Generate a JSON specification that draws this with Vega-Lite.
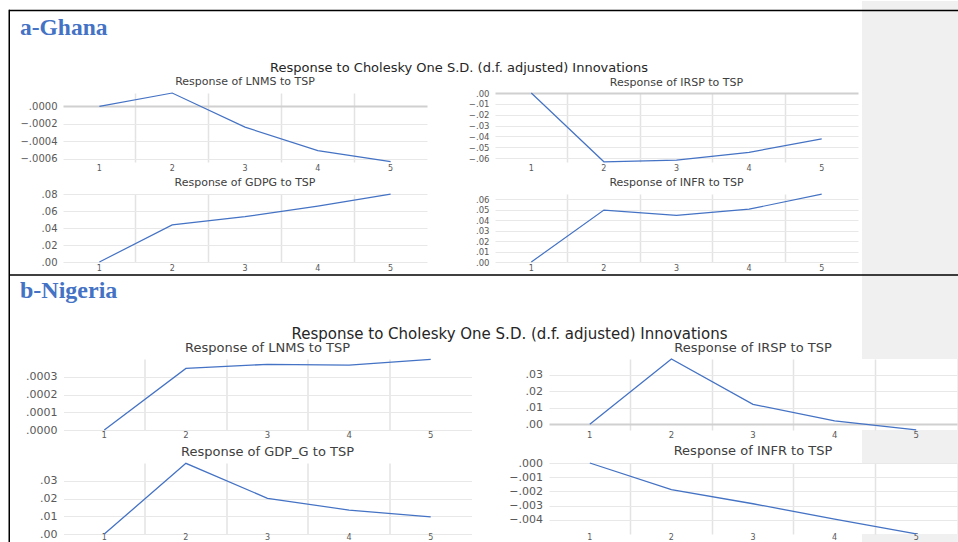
{
 "$schema": "https://vega.github.io/schema/vega-lite/v6.json",
 "padding": 0,
 "background": "white",
 "autosize": {"type": "pad"},
 "config": {
  "font": "DejaVu Sans",
  "view": {"stroke": null},
  "axis": {"domain": false, "ticks": false, "labelColor": "#595959", "labelFont": "DejaVu Sans"},
  "title": {"font": "DejaVu Sans", "fontWeight": "normal", "color": "#404040"}
 },
 "datasets": {
  "gh_lnms": [{"h":1,"r":0},{"h":2,"r":0.000155},{"h":3,"r":-0.000238},{"h":4,"r":-0.000509},{"h":5,"r":-0.000636}],
  "gh_irsp": [{"h":1,"r":0},{"h":2,"r":-0.0633},{"h":3,"r":-0.0618},{"h":4,"r":-0.0546},{"h":5,"r":-0.0423}],
  "gh_gdpg": [{"h":1,"r":0},{"h":2,"r":0.0436},{"h":3,"r":0.0533},{"h":4,"r":0.0658},{"h":5,"r":0.0799}],
  "gh_infr": [{"h":1,"r":0},{"h":2,"r":0.0496},{"h":3,"r":0.0446},{"h":4,"r":0.0505},{"h":5,"r":0.0648}],
  "ng_lnms": [{"h":1,"r":0},{"h":2,"r":0.000347},{"h":3,"r":0.00037},{"h":4,"r":0.000366},{"h":5,"r":0.000398}],
  "ng_irsp": [{"h":1,"r":0},{"h":2,"r":0.0396},{"h":3,"r":0.0121},{"h":4,"r":0.002},{"h":5,"r":-0.0034}],
  "ng_gdpg": [{"h":1,"r":0},{"h":2,"r":0.0398},{"h":3,"r":0.0201},{"h":4,"r":0.0135},{"h":5,"r":0.0097}],
  "ng_infr": [{"h":1,"r":0},{"h":2,"r":-0.00188},{"h":3,"r":-0.00287},{"h":4,"r":-0.00395},{"h":5,"r":-0.00499}]
 },
 "bounds": "flush",
 "spacing": 0,
 "vconcat": [
  {"bounds":"flush","spacing":861,"hconcat":[{"width":1,"height":1,"data":{"values":[]},"mark":{"type":"point","opacity":0}},{"bounds":"flush","spacing":-1,"vconcat":[{"width":1,"height":1,"data":{"values":[]},"mark":{"type":"point","opacity":0}},
    {"width":96,"height":542,"data":{"values":[]},"mark":{"type":"point","opacity":0},"view":{"fill":"#f0f0f0","stroke":null}}]}]},
  {"bounds":"flush","spacing":8,"hconcat":[{"width":1,"height":1,"data":{"values":[]},"mark":{"type":"point","opacity":0}},{"bounds":"flush","spacing":8.7,"vconcat":[{"width":1,"height":1,"data":{"values":[]},"mark":{"type":"point","opacity":0}},
    {"width":949,"height":1.5,"data":{"values":[]},"mark":{"type":"point","opacity":0},"view":{"fill":"#000000","stroke":null}}]}]},
  {"bounds":"flush","spacing":7.5,"hconcat":[{"width":1,"height":1,"data":{"values":[]},"mark":{"type":"point","opacity":0}},{"bounds":"flush","spacing":8.7,"vconcat":[{"width":1,"height":1,"data":{"values":[]},"mark":{"type":"point","opacity":0}},
    {"width":1.5,"height":532.3,"data":{"values":[]},"mark":{"type":"point","opacity":0},"view":{"fill":"#000000","stroke":null}}]}]},
  {"bounds":"flush","spacing":8,"hconcat":[{"width":1,"height":1,"data":{"values":[]},"mark":{"type":"point","opacity":0}},{"bounds":"flush","spacing":273.3,"vconcat":[{"width":1,"height":1,"data":{"values":[]},"mark":{"type":"point","opacity":0}},
    {"width":949,"height":1.5,"data":{"values":[]},"mark":{"type":"point","opacity":0},"view":{"fill":"#000000","stroke":null}}]}]},
  {"bounds":"flush","spacing":19,"hconcat":[{"width":1,"height":1,"data":{"values":[]},"mark":{"type":"point","opacity":0}},{"bounds":"flush","spacing":38,"vconcat":[{"width":1,"height":1,"data":{"values":[]},"mark":{"type":"point","opacity":0}},
    {"width":2,"height":1,"data":{"values":[]},"mark":{"type":"point","opacity":0},"title":{"text":"a-Ghana","anchor":"start","frame":"group","offset":0,"font":"Liberation Serif","fontSize":23.5,"fontWeight":"bold","color":"#4472C4"}}]}]},
  {"bounds":"flush","spacing":19,"hconcat":[{"width":1,"height":1,"data":{"values":[]},"mark":{"type":"point","opacity":0}},{"bounds":"flush","spacing":302,"vconcat":[{"width":1,"height":1,"data":{"values":[]},"mark":{"type":"point","opacity":0}},
    {"width":2,"height":1,"data":{"values":[]},"mark":{"type":"point","opacity":0},"title":{"text":"b-Nigeria","anchor":"start","frame":"group","offset":0,"font":"Liberation Serif","fontSize":24,"fontWeight":"bold","color":"#4472C4"}}]}]},
  {"bounds":"flush","spacing":457,"hconcat":[{"width":1,"height":1,"data":{"values":[]},"mark":{"type":"point","opacity":0}},{"bounds":"flush","spacing":74.1,"vconcat":[{"width":1,"height":1,"data":{"values":[]},"mark":{"type":"point","opacity":0}},
    {"width":2,"height":1,"data":{"values":[]},"mark":{"type":"point","opacity":0},"title":{"text":"Response to Cholesky One S.D. (d.f. adjusted) Innovations","anchor":"middle","frame":"group","offset":0,"fontSize":13,"color":"#262626"}}]}]},
  {"bounds":"flush","spacing":507.5,"hconcat":[{"width":1,"height":1,"data":{"values":[]},"mark":{"type":"point","opacity":0}},{"bounds":"flush","spacing":341,"vconcat":[{"width":1,"height":1,"data":{"values":[]},"mark":{"type":"point","opacity":0}},
    {"width":2,"height":1,"data":{"values":[]},"mark":{"type":"point","opacity":0},"title":{"text":"Response to Cholesky One S.D. (d.f. adjusted) Innovations","anchor":"middle","frame":"group","offset":0,"fontSize":15,"color":"#262626"}}]}]},
  {"bounds":"flush","spacing":62,"hconcat":[{"width":1,"height":1,"data":{"values":[]},"mark":{"type":"point","opacity":0}},{"bounds":"flush","spacing":92,"vconcat":[{"width":1,"height":1,"data":{"values":[]},"mark":{"type":"point","opacity":0}},
    {"width":364,"height":69,"view":{"fill":"white","stroke":null},
     "title":{"text":"Response of LNMS to TSP","anchor":"middle","frame":"group","offset":3.7,"fontSize":11},
     "data":{"name":"gh_lnms"},"mark":{"type":"line","color":"#4472C4","strokeWidth":1.2},
     "encoding":{
      "x":{"field":"h","type":"ordinal","bandPosition":0.5,"scale":{"type":"band","paddingInner":0,"paddingOuter":0},
       "axis":{"title":null,"labelAngle":0,"bandPosition":0,"labelFontSize":8,"labelPadding":2.6,"grid":true,"gridColor":"#e3e3e3","gridWidth":1.5,"gridOpacity":{"condition":{"test":"datum.value == 1","value":0},"value":1}}},
      "y":{"field":"r","type":"quantitative","scale":{"domain":[-0.00064,0.000155],"nice":false,"zero":false},
       "axis":{"title":null,"values":[0,-0.0002,-0.0004,-0.0006],"labelExpr":"replace(format(datum.value, '.4f'), '0.', '.')","labelFontSize":10,"labelPadding":6,"grid":true,"gridColor":{"condition":{"test":"datum.value == 0","value":"#d0d0d0"},"value":"#e8e8e8"},"gridWidth":{"condition":{"test":"datum.value == 0","value":2},"value":1}}}}}]}]},
  {"bounds":"flush","spacing":494,"hconcat":[{"width":1,"height":1,"data":{"values":[]},"mark":{"type":"point","opacity":0}},{"bounds":"flush","spacing":92,"vconcat":[{"width":1,"height":1,"data":{"values":[]},"mark":{"type":"point","opacity":0}},
    {"width":363,"height":69,"view":{"fill":"white","stroke":null},
     "title":{"text":"Response of IRSP to TSP","anchor":"middle","frame":"group","offset":1.45,"fontSize":11},
     "data":{"name":"gh_irsp"},"mark":{"type":"line","color":"#4472C4","strokeWidth":1.2},
     "encoding":{
      "x":{"field":"h","type":"ordinal","bandPosition":0.5,"scale":{"type":"band","paddingInner":0,"paddingOuter":0},
       "axis":{"title":null,"labelAngle":0,"bandPosition":0,"labelFontSize":8,"labelPadding":2.6,"grid":true,"gridColor":"#e3e3e3","gridWidth":1.5,"gridOpacity":{"condition":{"test":"datum.value == 1","value":0},"value":1}}},
      "y":{"field":"r","type":"quantitative","scale":{"domain":[-0.0635,0],"nice":false,"zero":false},
       "axis":{"title":null,"values":[0,-0.01,-0.02,-0.03,-0.04,-0.05,-0.06],"labelExpr":"replace(format(datum.value, '.2f'), '0.', '.')","labelFontSize":8.5,"labelPadding":6,"grid":true,"gridColor":{"condition":{"test":"datum.value == 0","value":"#d0d0d0"},"value":"#e8e8e8"},"gridWidth":{"condition":{"test":"datum.value == 0","value":2},"value":1}}}}}]}]},
  {"bounds":"flush","spacing":62,"hconcat":[{"width":1,"height":1,"data":{"values":[]},"mark":{"type":"point","opacity":0}},{"bounds":"flush","spacing":193,"vconcat":[{"width":1,"height":1,"data":{"values":[]},"mark":{"type":"point","opacity":0}},
    {"width":364,"height":68,"view":{"fill":"white","stroke":null},
     "title":{"text":"Response of GDPG to TSP","anchor":"middle","frame":"group","offset":0.7,"fontSize":11},
     "data":{"name":"gh_gdpg"},"mark":{"type":"line","color":"#4472C4","strokeWidth":1.2},
     "encoding":{
      "x":{"field":"h","type":"ordinal","bandPosition":0.5,"scale":{"type":"band","paddingInner":0,"paddingOuter":0},
       "axis":{"title":null,"labelAngle":0,"bandPosition":0,"labelFontSize":8,"labelPadding":2.6,"grid":true,"gridColor":"#e3e3e3","gridWidth":1.5,"gridOpacity":{"condition":{"test":"datum.value == 1","value":0},"value":1}}},
      "y":{"field":"r","type":"quantitative","scale":{"domain":[0,0.08],"nice":false,"zero":false},
       "axis":{"title":null,"values":[0,0.02,0.04,0.06,0.08],"labelExpr":"replace(format(datum.value, '.2f'), '0.', '.')","labelFontSize":10,"labelPadding":6,"grid":true,"gridColor":"#e8e8e8","gridWidth":1}}}}]}]},
  {"bounds":"flush","spacing":494,"hconcat":[{"width":1,"height":1,"data":{"values":[]},"mark":{"type":"point","opacity":0}},{"bounds":"flush","spacing":193,"vconcat":[{"width":1,"height":1,"data":{"values":[]},"mark":{"type":"point","opacity":0}},
    {"width":363,"height":68,"view":{"fill":"white","stroke":null},
     "title":{"text":"Response of INFR to TSP","anchor":"middle","frame":"group","offset":3.7,"fontSize":11},
     "data":{"name":"gh_infr"},"mark":{"type":"line","color":"#4472C4","strokeWidth":1.2},
     "encoding":{
      "x":{"field":"h","type":"ordinal","bandPosition":0.5,"scale":{"type":"band","paddingInner":0,"paddingOuter":0},
       "axis":{"title":null,"labelAngle":0,"bandPosition":0,"labelFontSize":8,"labelPadding":2.6,"grid":true,"gridColor":"#e3e3e3","gridWidth":1.5,"gridOpacity":{"condition":{"test":"datum.value == 1","value":0},"value":1}}},
      "y":{"field":"r","type":"quantitative","scale":{"domain":[0,0.065],"nice":false,"zero":false},
       "axis":{"title":null,"values":[0,0.01,0.02,0.03,0.04,0.05,0.06],"labelExpr":"replace(format(datum.value, '.2f'), '0.', '.')","labelFontSize":8.5,"labelPadding":6,"grid":true,"gridColor":"#e8e8e8","gridWidth":1}}}}]}]},
  {"bounds":"flush","spacing":62.5,"hconcat":[{"width":1,"height":1,"data":{"values":[]},"mark":{"type":"point","opacity":0}},{"bounds":"flush","spacing":358,"vconcat":[{"width":1,"height":1,"data":{"values":[]},"mark":{"type":"point","opacity":0}},
    {"width":408,"height":71,"view":{"fill":"white","stroke":null},
     "title":{"text":"Response of LNMS to TSP","anchor":"middle","frame":"group","offset":1.55,"fontSize":13},
     "data":{"name":"ng_lnms"},"mark":{"type":"line","color":"#4472C4","strokeWidth":1.3},
     "encoding":{
      "x":{"field":"h","type":"ordinal","bandPosition":0.5,"scale":{"type":"band","paddingInner":0,"paddingOuter":0},
       "axis":{"title":null,"labelAngle":0,"bandPosition":0,"labelFontSize":8.5,"labelPadding":0.6,"grid":true,"gridColor":"#e3e3e3","gridWidth":1.5,"gridOpacity":{"condition":{"test":"datum.value == 1","value":0},"value":1}}},
      "y":{"field":"r","type":"quantitative","scale":{"domain":[0,0.0004],"nice":false,"zero":false},
       "axis":{"title":null,"values":[0,0.0001,0.0002,0.0003],"labelExpr":"replace(format(datum.value, '.4f'), '0.', '.')","labelFontSize":11,"labelPadding":6.5,"grid":true,"gridColor":"#e8e8e8","gridWidth":1}}}}]}]},
  {"bounds":"flush","spacing":548,"hconcat":[{"width":1,"height":1,"data":{"values":[]},"mark":{"type":"point","opacity":0}},{"bounds":"flush","spacing":358,"vconcat":[{"width":1,"height":1,"data":{"values":[]},"mark":{"type":"point","opacity":0}},
    {"width":408,"height":71,"view":{"fill":"white","stroke":null},
     "title":{"text":"Response of IRSP to TSP","anchor":"middle","frame":"group","offset":1.5,"fontSize":13},
     "data":{"name":"ng_irsp"},"mark":{"type":"line","color":"#4472C4","strokeWidth":1.3},
     "encoding":{
      "x":{"field":"h","type":"ordinal","bandPosition":0.5,"scale":{"type":"band","paddingInner":0,"paddingOuter":0},
       "axis":{"title":null,"labelAngle":0,"bandPosition":0,"labelFontSize":8.5,"labelPadding":0.6,"grid":true,"gridColor":"#e3e3e3","gridWidth":1.5,"gridOpacity":{"condition":{"test":"datum.value == 1","value":0},"value":1}}},
      "y":{"field":"r","type":"quantitative","scale":{"domain":[-0.0035,0.0396],"nice":false,"zero":false},
       "axis":{"title":null,"values":[0,0.01,0.02,0.03],"labelExpr":"replace(format(datum.value, '.2f'), '0.', '.')","labelFontSize":11,"labelPadding":6.5,"grid":true,"gridColor":{"condition":{"test":"datum.value == 0","value":"#d0d0d0"},"value":"#e8e8e8"},"gridWidth":{"condition":{"test":"datum.value == 0","value":2},"value":1}}}}}]}]},
  {"bounds":"flush","spacing":62.5,"hconcat":[{"width":1,"height":1,"data":{"values":[]},"mark":{"type":"point","opacity":0}},{"bounds":"flush","spacing":462,"vconcat":[{"width":1,"height":1,"data":{"values":[]},"mark":{"type":"point","opacity":0}},
    {"width":408,"height":71,"view":{"fill":"white","stroke":null},
     "title":{"text":"Response of GDP_G to TSP","anchor":"middle","frame":"group","offset":1.55,"fontSize":13},
     "data":{"name":"ng_gdpg"},"mark":{"type":"line","color":"#4472C4","strokeWidth":1.3},
     "encoding":{
      "x":{"field":"h","type":"ordinal","bandPosition":0.5,"scale":{"type":"band","paddingInner":0,"paddingOuter":0},
       "axis":{"title":null,"labelAngle":0,"bandPosition":0,"labelFontSize":8,"labelPadding":-0.5,"grid":true,"gridColor":"#e3e3e3","gridWidth":1.5,"gridOpacity":{"condition":{"test":"datum.value == 1","value":0},"value":1}}},
      "y":{"field":"r","type":"quantitative","scale":{"domain":[0,0.04],"nice":false,"zero":false},
       "axis":{"title":null,"values":[0,0.01,0.02,0.03],"labelExpr":"replace(format(datum.value, '.2f'), '0.', '.')","labelFontSize":11,"labelPadding":6.5,"grid":true,"gridColor":"#e8e8e8","gridWidth":1}}}}]}]},
  {"bounds":"flush","spacing":548,"hconcat":[{"width":1,"height":1,"data":{"values":[]},"mark":{"type":"point","opacity":0}},{"bounds":"flush","spacing":462,"vconcat":[{"width":1,"height":1,"data":{"values":[]},"mark":{"type":"point","opacity":0}},
    {"width":408,"height":71,"view":{"fill":"white","stroke":null},
     "title":{"text":"Response of INFR to TSP","anchor":"middle","frame":"group","offset":-0.95,"fontSize":13},
     "data":{"name":"ng_infr"},"mark":{"type":"line","color":"#4472C4","strokeWidth":1.3},
     "encoding":{
      "x":{"field":"h","type":"ordinal","bandPosition":0.5,"scale":{"type":"band","paddingInner":0,"paddingOuter":0},
       "axis":{"title":null,"labelAngle":0,"bandPosition":0,"labelFontSize":8,"labelPadding":-0.5,"grid":true,"gridColor":"#e3e3e3","gridWidth":1.5,"gridOpacity":{"condition":{"test":"datum.value == 1","value":0},"value":1}}},
      "y":{"field":"r","type":"quantitative","scale":{"domain":[-0.005,0],"nice":false,"zero":false},
       "axis":{"title":null,"values":[0,-0.001,-0.002,-0.003,-0.004],"labelExpr":"replace(format(datum.value, '.3f'), '0.', '.')","labelFontSize":11,"labelPadding":6.5,"grid":true,"gridColor":"#e8e8e8","gridWidth":1}}}}]}]}
 ]
}
